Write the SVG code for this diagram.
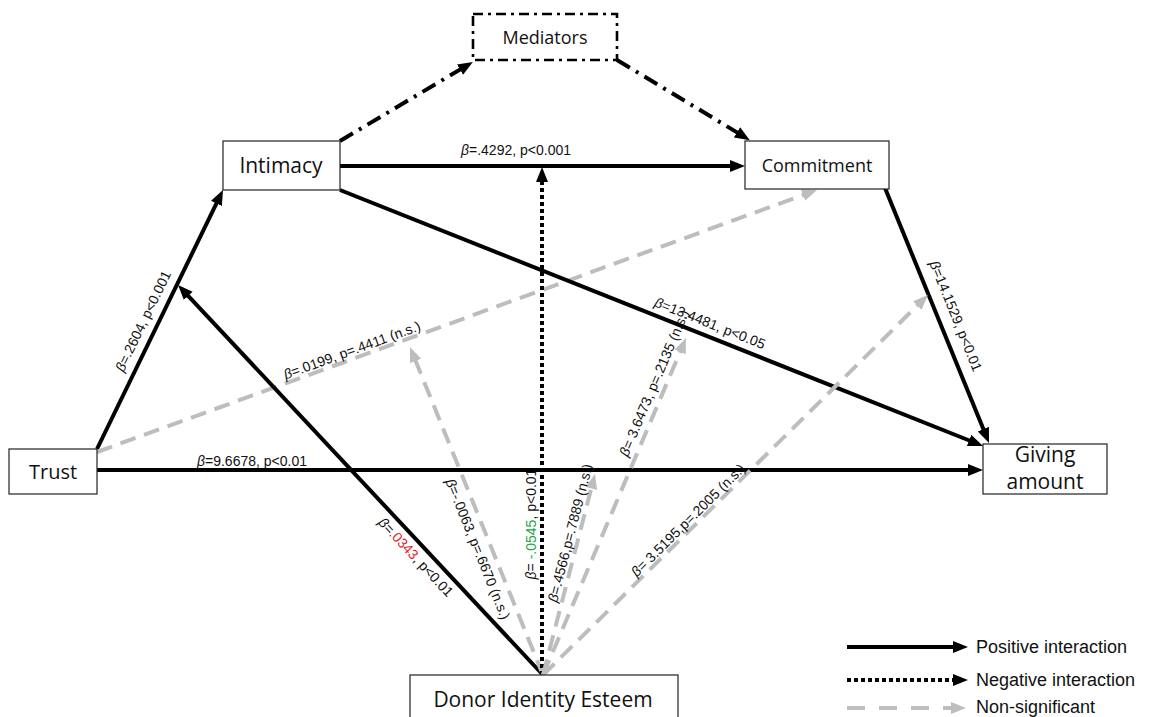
<svg xmlns="http://www.w3.org/2000/svg" width="1152" height="717" viewBox="0 0 1152 717">
  <style>
    .box { fill: #ffffff; stroke: #222222; stroke-width: 1.2; }
    .node { font-family: "Open Sans", "Noto Sans", sans-serif; fill: #111111; text-anchor: middle; }
    .pos { fill: none; stroke: #000000; stroke-width: 4; }
    .neg { fill: none; stroke: #000000; stroke-width: 4; stroke-dasharray: 4 3; }
    .ns { fill: none; stroke: #bdbdbd; stroke-width: 4; stroke-dasharray: 16 9; }
    .med { fill: none; stroke: #000000; stroke-width: 4; stroke-dasharray: 15 7 3 7; }
    .lbl { font-family: "Liberation Sans", Arial, sans-serif; font-size: 14px; fill: #111111; text-anchor: middle; }
    .b { font-style: italic; }
    .leg { font-family: "Liberation Sans", Arial, sans-serif; font-size: 18px; fill: #111111; }
  </style>
  <defs>
    <marker id="ah" markerUnits="userSpaceOnUse" markerWidth="16" markerHeight="13" refX="7" refY="6" orient="auto">
      <path d="M0,0 L15,6 L0,12 z" fill="#000000"/>
    </marker>
    <marker id="ahg" markerUnits="userSpaceOnUse" markerWidth="16" markerHeight="13" refX="7" refY="6" orient="auto">
      <path d="M0,0 L15,6 L0,12 z" fill="#bdbdbd"/>
    </marker>
  </defs>

  <rect width="1152" height="717" fill="#ffffff"/>

  <!-- paths between constructs -->
  <g id="connectors">
    <!-- mediated route -->
    <line class="med" x1="340" y1="141" x2="466" y2="66" marker-end="url(#ah)"/>
    <line class="med" x1="617" y1="60" x2="743" y2="136" marker-end="url(#ah)"/>
    <!-- direct effects -->
    <line class="pos" x1="340" y1="166" x2="737" y2="166" marker-end="url(#ah)"/>
    <line class="pos" x1="97" y1="449" x2="219.5" y2="197.2" marker-end="url(#ah)"/>
    <line class="ns" x1="97" y1="452" x2="809.5" y2="192.7" marker-end="url(#ahg)"/>
    <line class="pos" x1="97" y1="470" x2="975" y2="470" marker-end="url(#ah)"/>
    <line class="pos" x1="340" y1="190" x2="975.6" y2="443" marker-end="url(#ah)"/>
    <line class="pos" x1="885" y1="188" x2="986" y2="435.6" marker-end="url(#ah)"/>
    <!-- moderation by donor identity esteem -->
    <line class="pos" x1="543" y1="675" x2="183.5" y2="290.8" marker-end="url(#ah)"/>
    <line class="ns" x1="543" y1="675" x2="413" y2="354.4" marker-end="url(#ahg)"/>
    <line class="neg" x1="542" y1="675" x2="542" y2="175" marker-end="url(#ah)"/>
    <line class="ns" x1="543" y1="675" x2="593" y2="481.7" marker-end="url(#ahg)"/>
    <line class="ns" x1="543" y1="675" x2="682.9" y2="345.4" marker-end="url(#ahg)"/>
    <line class="ns" x1="543" y1="675" x2="922.3" y2="300.6" marker-end="url(#ahg)"/>
  </g>

  <!-- coefficient labels -->
  <g id="labels">
    <text class="lbl" x="516" y="155"><tspan class="b">β</tspan>=.4292, p&lt;0.001</text>
    <text class="lbl" transform="translate(143,321) rotate(-64.1)" y="5"><tspan class="b">β</tspan>=.2604, p&lt;0.001</text>
    <text class="lbl" transform="translate(352,350) rotate(-20)" y="5"><tspan class="b">β</tspan>=.0199, p=.4411 (n.s.)</text>
    <text class="lbl" x="252" y="466"><tspan class="b">β</tspan>=9.6678, p&lt;0.01</text>
    <text class="lbl" transform="translate(710,323) rotate(21.6)" y="5"><tspan class="b">β</tspan>=13.4481, p&lt;0.05</text>
    <text class="lbl" transform="translate(956,316) rotate(68)" y="5"><tspan class="b">β</tspan>=14.1529, p&lt;0.01</text>
    <text class="lbl" transform="translate(416,557) rotate(47)" y="5"><tspan class="b">β</tspan>=<tspan fill="#e3222b">.0343</tspan>, p&lt;0.01</text>
    <text class="lbl" transform="translate(478,549) rotate(68)" y="5"><tspan class="b">β</tspan>=-.0063, p=.6670 (n.s.)</text>
    <text class="lbl" transform="translate(531,524) rotate(-90)" y="5"><tspan class="b">β</tspan>= <tspan fill="#1fa64a">-.0545</tspan>, p&lt;0.01</text>
    <text class="lbl" transform="translate(570,533) rotate(-75.5)" y="5"><tspan class="b">β</tspan>=.4566,p=.7889 (n.s.)</text>
    <text class="lbl" transform="translate(654,383) rotate(-67)" y="5"><tspan class="b">β</tspan>= 3.6473, p=.2135 (n.s.)</text>
    <text class="lbl" transform="translate(688,520) rotate(-44.6)" y="5"><tspan class="b">β</tspan>= 3.5195,p=.2005 (n.s.)</text>
  </g>

  <!-- constructs -->
  <g id="mediators">
    <rect x="473" y="14" width="144" height="46" fill="#ffffff" stroke="#000000" stroke-width="2.6" stroke-dasharray="10 5 3 5"/>
    <text class="node" x="545" y="44" font-size="18">Mediators</text>
  </g>
  <g id="intimacy">
    <rect class="box" x="223" y="141" width="117" height="49"/>
    <text class="node" x="281" y="173" font-size="21">Intimacy</text>
  </g>
  <g id="commitment">
    <rect class="box" x="745" y="141" width="144" height="48"/>
    <text class="node" x="817" y="172" font-size="18">Commitment</text>
  </g>
  <g id="trust">
    <rect class="box" x="9" y="449" width="88" height="45"/>
    <text class="node" x="53" y="479" font-size="20">Trust</text>
  </g>
  <g id="giving-amount">
    <rect class="box" x="983" y="444" width="124" height="50"/>
    <text class="node" x="1045" y="462" font-size="21">Giving</text>
    <text class="node" x="1045" y="489" font-size="21">amount</text>
  </g>
  <g id="donor-identity-esteem">
    <rect class="box" x="410" y="675" width="268" height="50"/>
    <text class="node" x="543" y="707" font-size="21">Donor Identity Esteem</text>
  </g>

  <!-- key -->
  <g id="legend">
    <line class="pos" x1="847" y1="647" x2="960" y2="647" marker-end="url(#ah)"/>
    <text class="leg" x="976" y="653">Positive interaction</text>
    <line class="neg" x1="847" y1="680" x2="960" y2="680" marker-end="url(#ah)"/>
    <text class="leg" x="976" y="686">Negative interaction</text>
    <line x1="847" y1="708" x2="958" y2="708" stroke="#bdbdbd" stroke-width="4" stroke-dasharray="18 14" marker-end="url(#ahg)"/>
    <text class="leg" x="976" y="713">Non-significant</text>
  </g>
</svg>
